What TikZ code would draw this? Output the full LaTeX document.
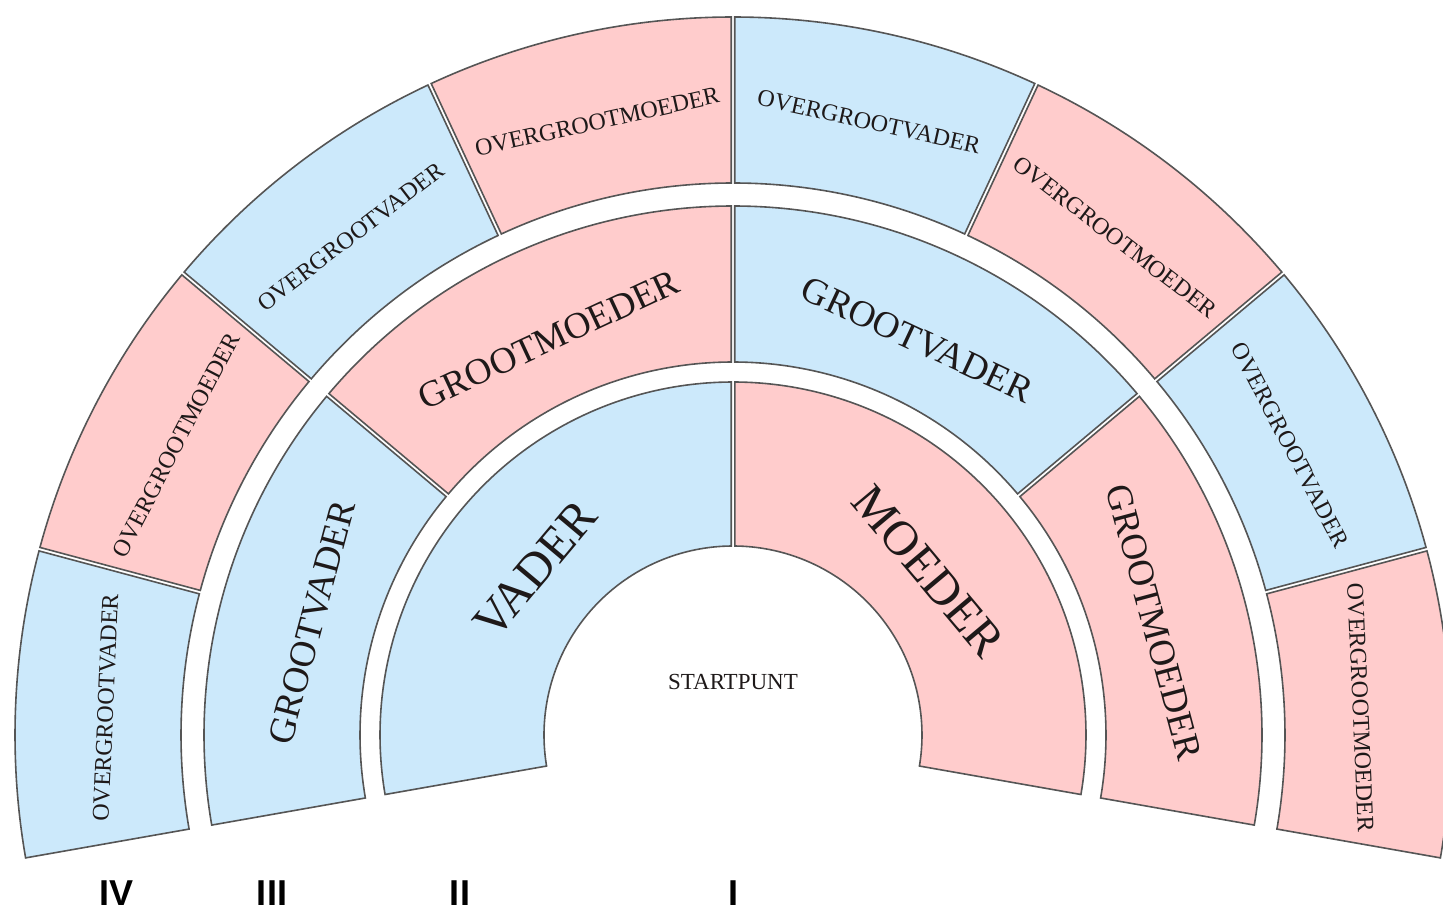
\documentclass[tikz,border=0pt]{standalone}
\usepackage{fontspec}
\setmainfont{Liberation Serif}
\newfontfamily\labelfont{Liberation Sans}
\definecolor{blu}{RGB}{204,233,251}
\definecolor{pnk}{RGB}{255,204,204}
\definecolor{edgegray}{RGB}{85,85,85}
\definecolor{ink}{RGB}{30,25,25}
\newcommand{\fanseg}[5]{%
  \pgfmathsetmacro{\fsA}{#3+asin(1.8/#1)}%
  \pgfmathsetmacro{\fsB}{#4-asin(1.8/#1)}%
  \pgfmathsetmacro{\fsC}{#3+asin(1.8/#2)}%
  \pgfmathsetmacro{\fsD}{#4-asin(1.8/#2)}%
  \filldraw[segbox, fill=#5] (\fsC:#2) arc[start angle=\fsC, end angle=\fsD, radius=#2]
    -- (\fsB:#1) arc[start angle=\fsB, end angle=\fsA, radius=#1] -- cycle;
}
\tikzset{
  segbox/.style={draw=edgegray, line width=0.8pt, line join=miter},
  ringone/.style={text=ink, font=\fontsize{24.5}{24.5}\selectfont, inner sep=0pt},
  ringtwo/.style={text=ink, font=\fontsize{18.5}{18.5}\selectfont, inner sep=0pt},
  ringthree/.style={text=ink, font=\fontsize{12}{12}\selectfont, inner sep=0pt},
  genlabel/.style={text=black, font=\labelfont\bfseries\fontsize{18}{18}\selectfont, inner sep=0pt},
}
\begin{document}
\begin{tikzpicture}[x=0.5pt, y=0.5pt]
\useasboundingbox (-733,-179) rectangle (710,735);
% ring 1
\fanseg{189}{353}{90}{190}{blu}
\fanseg{189}{353}{-10}{90}{pnk}
% ring 2
\fanseg{373}{529}{140}{190}{blu}
\fanseg{373}{529}{90}{140}{pnk}
\fanseg{373}{529}{40}{90}{blu}
\fanseg{373}{529}{-10}{40}{pnk}
% ring 3
\fanseg{552}{718}{165}{190}{blu}
\fanseg{552}{718}{140}{165}{pnk}
\fanseg{552}{718}{115}{140}{blu}
\fanseg{552}{718}{90}{115}{pnk}
\fanseg{552}{718}{65}{90}{blu}
\fanseg{552}{718}{40}{65}{pnk}
\fanseg{552}{718}{15}{40}{blu}
\fanseg{552}{718}{-10}{15}{pnk}
% texts ring 1
\node[ringone, rotate=50] (vader) at (140:258) {VADER};
\node[ringone, rotate=-50] (moeder) at (40:255) {MOEDER};
% texts ring 2
\node[ringtwo, rotate=75] (gv1) at (165:436) {GROOTVADER};
\node[ringtwo, rotate=25] (gm1) at (115:436) {GROOTMOEDER};
\node[ringtwo, rotate=-25] (gv2) at (65:436) {GROOTVADER};
\node[ringtwo, rotate=-75] (gm2) at (15:436) {GROOTMOEDER};
% texts ring 3
\node[ringthree, rotate=87.5] (ogv1) at (177.5:628) {OVERGROOTVADER};
\node[ringthree, rotate=62.5] (ogm1) at (152.5:628) {OVERGROOTMOEDER};
\node[ringthree, rotate=37.5] (ogv2) at (127.5:628) {OVERGROOTVADER};
\node[ringthree, rotate=12.5] (ogm2) at (102.5:628) {OVERGROOTMOEDER};
\node[ringthree, rotate=-12.5] (ogv3) at (77.5:628) {OVERGROOTVADER};
\node[ringthree, rotate=-37.5] (ogm3) at (52.5:628) {OVERGROOTMOEDER};
\node[ringthree, rotate=-62.5] (ogv4) at (27.5:628) {OVERGROOTVADER};
\node[ringthree, rotate=-87.5] (ogm4) at (2.5:628) {OVERGROOTMOEDER};
% centre
\node[text=ink, font=\fontsize{11.5}{11.5}\selectfont, inner sep=0pt] (start) at (0,53) {STARTPUNT};
% generation labels
\node[genlabel] (gen4) at (-616,-158) {IV};
\node[genlabel] (gen3) at (-461,-158) {III};
\node[genlabel] (gen2) at (-273,-158) {II};
\node[genlabel] (gen1) at (0,-158) {I};
\end{tikzpicture}
\end{document}
